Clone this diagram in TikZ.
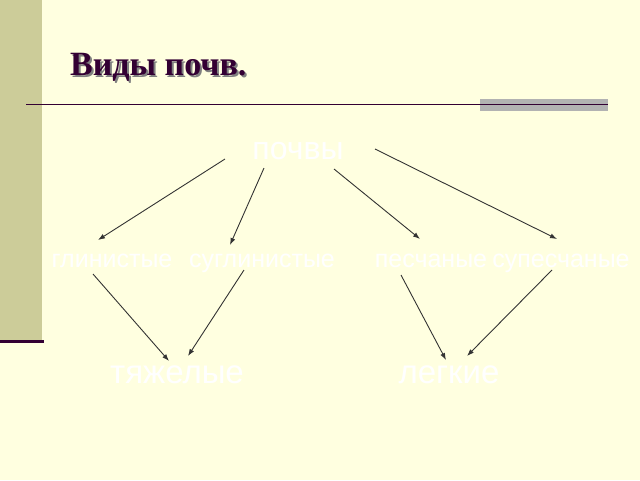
\documentclass[tikz,border=0pt]{standalone}
\usepackage{fontspec}
\setmainfont{Liberation Serif}
\newfontfamily\arialf{Liberation Sans}
\usetikzlibrary{arrows.meta}
\definecolor{bgyellow}{RGB}{255,255,224}
\definecolor{barolive}{RGB}{204,204,153}
\definecolor{linepurple}{RGB}{51,0,51}
\definecolor{bargray}{RGB}{178,178,178}
\definecolor{arrowgray}{RGB}{51,51,51}
\tikzset{
  lbl/.style={anchor=base, text=white, inner sep=0pt, font=\arialf},
  conn/.style={draw=arrowgray, line width=0.9pt, -{Latex[length=7pt,width=5pt]}},
}
\newcommand{\shadowtext}[1]{\rlap{\hspace{2pt}\raisebox{-2pt}{\color{gray}#1}}#1}
\begin{document}
\begin{tikzpicture}[x=1pt,y=-1pt]
\useasboundingbox (0,0) rectangle (640,480);
\fill[bgyellow] (0,0) rectangle (640,480);
\fill[barolive] (0,0) rectangle (42,340);
\fill[linepurple] (0,339.5) rectangle (44,342.5);
\fill[bargray] (480,99) rectangle (608,111);
\draw[linepurple, line width=1.5pt] (26,104.5) -- (608,104.5);
% title
\node (title) [anchor=base west, inner sep=0pt, text=linepurple, font=\fontsize{34}{40}\selectfont\bfseries] at (70,75) {\shadowtext{Виды почв.}};
% labels
\node (pochvy) [lbl, font=\arialf\fontsize{32}{36}\selectfont] at (298,159) {почвы};
\node (glin) [lbl, font=\arialf\fontsize{25}{30}\selectfont] at (112,267) {глинистые};
\node (sugl) [lbl, font=\arialf\fontsize{25}{30}\selectfont] at (262,267) {суглинистые};
\node (pesch) [lbl, font=\arialf\fontsize{25}{30}\selectfont] at (431,267) {песчаные};
\node (supes) [lbl, font=\arialf\fontsize{25}{30}\selectfont] at (561,267) {супесчаные};
\node (tyazh) [lbl, font=\arialf\fontsize{33}{38}\selectfont] at (177,383) {тяжелые};
\node (legk) [lbl, font=\arialf\fontsize{33}{38}\selectfont] at (449,383) {легкие};
% connector end points
\coordinate (p1) at (225,159);  \coordinate (g1) at (98,240);
\coordinate (p2) at (264,168);  \coordinate (s1) at (230,245);
\coordinate (p3) at (334,169);  \coordinate (e1) at (420,239);
\coordinate (p4) at (375,149);  \coordinate (u1) at (557,239);
\coordinate (g2) at (93,274);   \coordinate (t1) at (169,361);
\coordinate (s2) at (244,270);  \coordinate (t2) at (188,356);
\coordinate (e2) at (401,275);  \coordinate (l1) at (446,360);
\coordinate (u2) at (552,270);  \coordinate (l2) at (467,356);
\draw[conn] (p1) -- (g1);
\draw[conn] (p2) -- (s1);
\draw[conn] (p3) -- (e1);
\draw[conn] (p4) -- (u1);
\draw[conn] (g2) -- (t1);
\draw[conn] (s2) -- (t2);
\draw[conn] (e2) -- (l1);
\draw[conn] (u2) -- (l2);
\end{tikzpicture}
\end{document}
